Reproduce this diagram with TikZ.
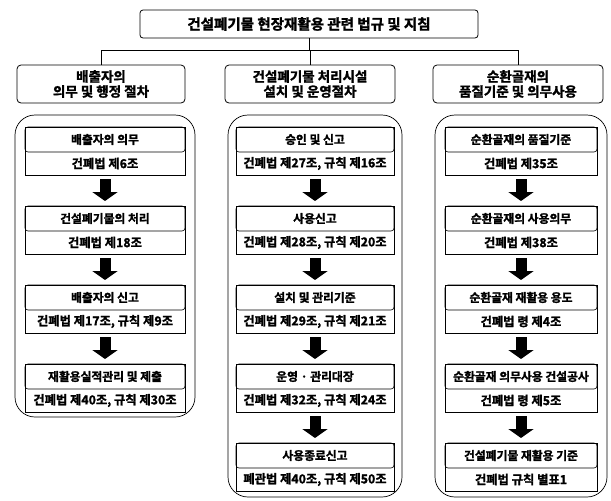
\documentclass[tikz,border=0pt]{standalone}
\usepackage{fontspec}
\setmainfont{Noto Sans CJK KR}[BoldFont=* Bold, BoldFeatures={FakeBold=1.6}]
\usetikzlibrary{arrows.meta}
\newcommand\mkbox[6]{%
  \node[frame, minimum width=#4pt, anchor=north] (#1) at (#2,#3) {};
  \node[up, minimum width=#4pt, anchor=north] (#1u) at (#2,#3) {#5};
  \node[low, minimum width=#4pt, anchor=south] (#1l) at (#1.south) {#6};
}
\begin{document}
\begin{tikzpicture}[x=1pt,y=-1pt,
  every node/.style={inner sep=0pt, outer sep=0pt},
  ttl/.style={draw, rounded corners=3pt, line width=0.8pt, minimum width=338pt, minimum height=28pt, font=\bfseries\fontsize{14.5pt}{16pt}\selectfont},
  head/.style={draw, rounded corners=4pt, line width=0.8pt, minimum height=38pt, align=center, font=\bfseries\fontsize{13.5pt}{15pt}\selectfont},
  outer/.style={draw, rounded corners=20pt, line width=0.7pt},
  frame/.style={draw, line width=0.7pt, minimum height=48pt},
  up/.style={draw, rounded corners=3pt, line width=0.6pt, minimum height=25pt, font=\bfseries\fontsize{11.8pt}{13pt}\selectfont},
  low/.style={minimum height=23pt, font=\bfseries\fontsize{12.3pt}{13pt}\selectfont},
  down/.style={line width=11pt, -{Triangle[length=9pt,width=25pt]}, shorten <=4pt, shorten >=5pt},
  link/.style={line width=0.6pt}]
\useasboundingbox (0,0) rectangle (611,501);

% title and headers
\node[ttl] (title) at (309,24) {건설폐기물 현장재활용 관련 법규 및 지침};
\node[head, minimum width=168pt] (hL) at (101,84) {배출자의\\의무 및 행정 절차};
\node[head, minimum width=170pt] (hM) at (310,84) {건설폐기물 처리시설\\설치 및 운영절차};
\node[head, minimum width=170pt] (hR) at (518,84) {순환골재의\\품질기준 및 의무사용};
\coordinate (j) at (309,50);
\draw[link] (title.south) -- (j);
\draw[link] (hL.north) -- (hL.north |- j) -- (hR.north |- j) -- (hR.north);
\draw[link] (hM.north) -- (hM.north |- j);

% outer containers
\node[outer, minimum width=180pt, minimum height=302pt] (oL) at (105,266) {};
\node[outer, minimum width=174pt, minimum height=382pt] (oM) at (315,306) {};
\node[outer, minimum width=172pt, minimum height=382pt] (oR) at (521,306) {};

% left column
\mkbox{L1}{105}{127}{160}{배출자의 의무}{건폐법 제6조}
\mkbox{L2}{105}{206}{160}{건설폐기물의 처리}{건폐법 제18조}
\mkbox{L3}{105}{285}{160}{배출자의 신고}{건폐법 제17조, 규칙 제9조}
\mkbox{L4}{105}{364}{160}{재활용실적관리 및 제출}{건폐법 제40조, 규칙 제30조}
% middle column
\mkbox{M1}{315}{127}{158}{승인 및 신고}{건폐법 제27조, 규칙 제16조}
\mkbox{M2}{315}{206}{158}{사용신고}{건폐법 제28조, 규칙 제20조}
\mkbox{M3}{315}{285}{158}{설치 및 관리기준}{건폐법 제29조, 규칙 제21조}
\mkbox{M4}{315}{364}{158}{운영 · 관리대장}{건폐법 제32조, 규칙 제24조}
\mkbox{M5}{315}{443}{158}{사용종료신고}{폐관법 제40조, 규칙 제50조}
% right column
\mkbox{R1}{521}{127}{152}{순환골재의 품질기준}{건폐법 제35조}
\mkbox{R2}{521}{206}{152}{순환골재의 사용의무}{건폐법 제38조}
\mkbox{R3}{521}{285}{152}{순환골재 재활용 용도}{건폐법 령 제4조}
\mkbox{R4}{521}{364}{152}{순환골재 의무사용 건설공사}{건폐법 령 제5조}
\mkbox{R5}{521}{443}{152}{건설폐기물 재활용 기준}{건폐법 규칙 별표1}

% arrows
\draw[down] (L1.south) -- (L2.north);
\draw[down] (L2.south) -- (L3.north);
\draw[down] (L3.south) -- (L4.north);
\draw[down] (M1.south) -- (M2.north);
\draw[down] (M2.south) -- (M3.north);
\draw[down] (M3.south) -- (M4.north);
\draw[down] (M4.south) -- (M5.north);
\draw[down] (R1.south) -- (R2.north);
\draw[down] (R2.south) -- (R3.north);
\draw[down] (R3.south) -- (R4.north);
\draw[down] (R4.south) -- (R5.north);
\end{tikzpicture}
\end{document}
